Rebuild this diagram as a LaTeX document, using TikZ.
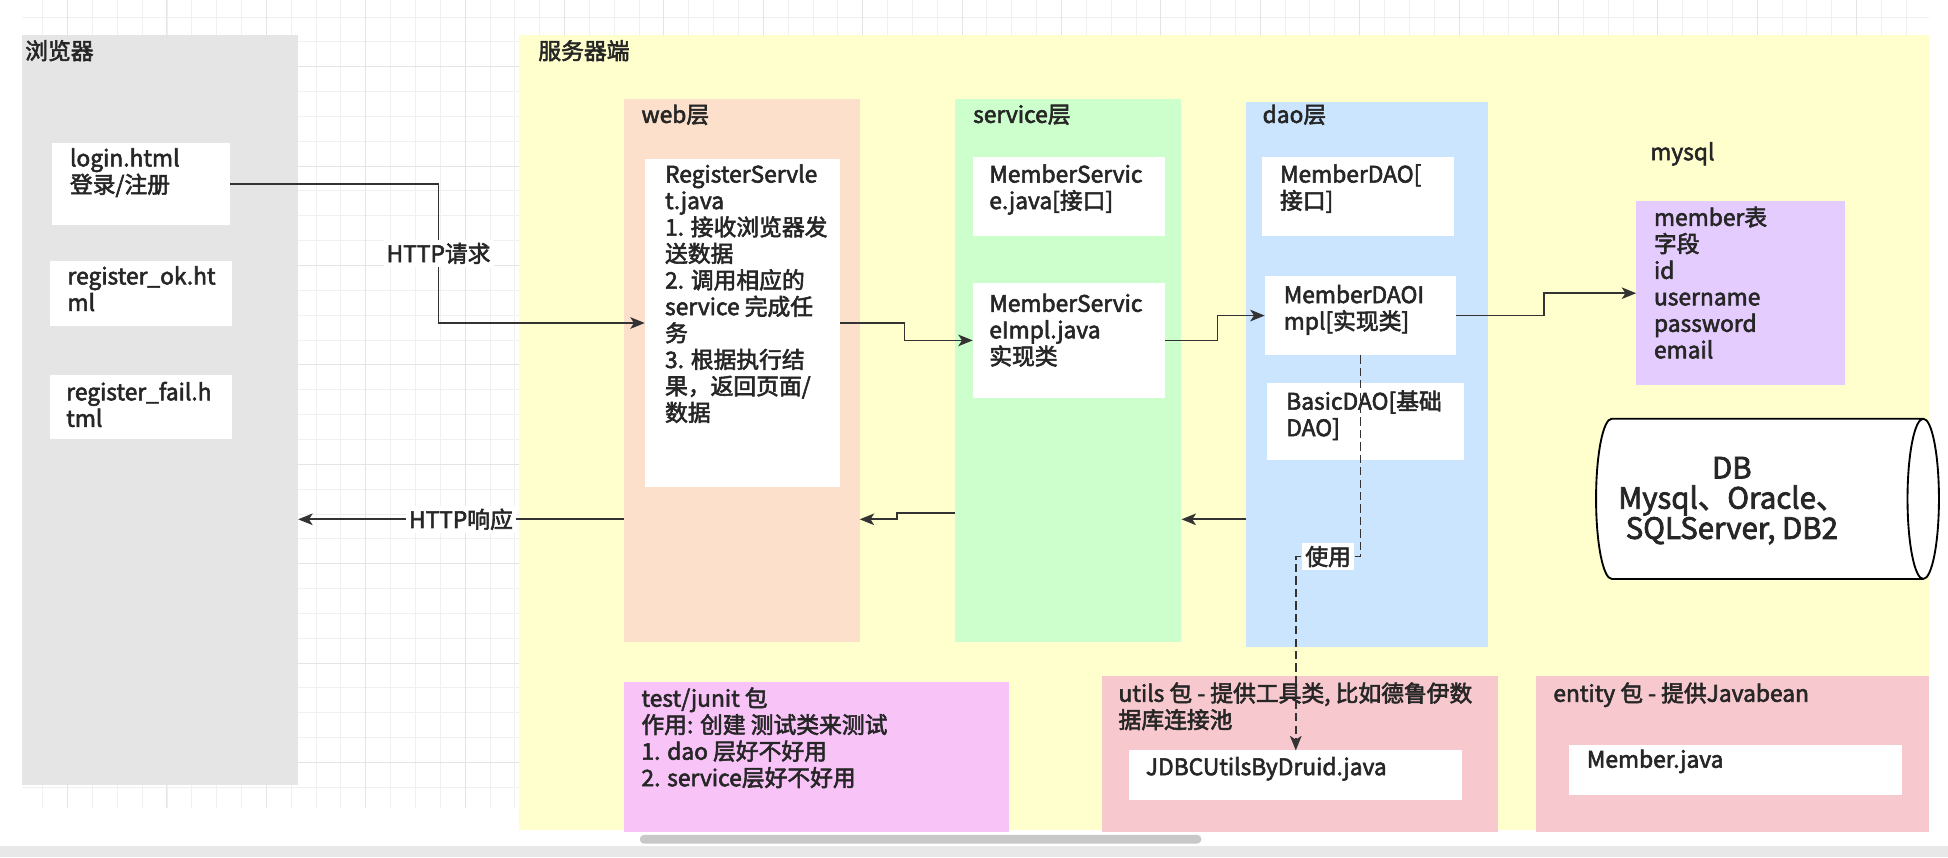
\documentclass[tikz,border=0pt]{standalone}
\usepackage{fontspec}
\setmainfont{Noto Sans CJK SC}[FakeBold=2.5]
\usepackage{tikz}
\usetikzlibrary{arrows.meta, shapes.geometric, positioning, fit, calc}

\definecolor{browserGray}{HTML}{E5E5E5}
\definecolor{serverYellow}{HTML}{FFFFCE}
\definecolor{webPeach}{HTML}{FCE0CC}
\definecolor{svcGreen}{HTML}{CCFFCC}
\definecolor{daoBlue}{HTML}{CCE5FF}
\definecolor{tblPurple}{HTML}{E5CCFF}
\definecolor{testPink}{HTML}{F8C4F8}
\definecolor{pkgPink}{HTML}{F7C8CD}
\definecolor{lineC}{HTML}{333333}
\definecolor{textC}{HTML}{262626}
\definecolor{gridMinor}{HTML}{F0F0F0}
\definecolor{gridMajor}{HTML}{E4E4E4}
\definecolor{barGray}{HTML}{E8E8E8}
\definecolor{thumbGray}{HTML}{C8C8C8}

\begin{document}
\begin{tikzpicture}[x=0.6pt, y=-0.6pt,
    zone/.style={rectangle, inner sep=0pt, outer sep=0pt},
    card/.style={zone, fill=white},
    txt/.style={anchor=north west, inner sep=0pt, align=left, text=textC,
        font=\fontsize{11pt}{12.8pt}\selectfont},
    lbl/.style={fill=white, inner sep=1.5pt, text=textC,
        font=\fontsize{11pt}{12.8pt}\selectfont},
    flow/.style={draw=lineC, line width=0.8pt,
        -{Stealth[length=7pt, width=5.6pt, inset=1.8pt]}},
    useline/.style={flow, dash pattern=on 4pt off 2pt},
    gridminor/.style={draw=gridMinor, line width=0.45pt},
    gridmajor/.style={draw=gridMajor, line width=0.5pt},
    dbshape/.style={cylinder, draw=black, line width=0.9pt, fill=white,
        shape aspect=0.33, inner sep=0pt},
    dbtxt/.style={inner sep=0pt, align=center, text=textC,
        font=\fontsize{14.2pt}{14.6pt}\selectfont}]

% canvas and grid
\path[use as bounding box, fill=white] (0,0) rectangle (1568,690);
\foreach \gx in {34.4,54.4,...,1553} \draw[gridminor] (\gx,0) -- (\gx,650);
\foreach \gy in {13.7,33.7,...,650} \draw[gridminor] (18,\gy) -- (1553,\gy);
\foreach \gx in {54.4,134.4,...,1553} \draw[gridmajor] (\gx,0) -- (\gx,650);
\foreach \gy in {53.7,133.7,...,650} \draw[gridmajor] (18,\gy) -- (1553,\gy);
\fill[barGray] (0,681) rectangle (1568,690);
\fill[thumbGray, rounded corners=2pt] (515,672) rectangle (967,679);

% browser side
\node[zone, fill=browserGray, fit={(18,28) (240,632)}] (browser) {};
\node[txt] (browserT) at (20,32) {浏览器};
\node[card, fit={(42,115) (185,181)}] (login) {};
\node[txt] (loginT) at (56,119) {login.html\\登录/注册};
\node[card, fit={(40,210) (187,262)}] (regOk) {};
\node[txt] (regOkT) at (54,214) {register\_ok.ht\\ml};
\node[card, fit={(40,302) (187,353)}] (regFail) {};
\node[txt] (regFailT) at (53,307) {register\_fail.h\\tml};

% server side
\node[zone, fill=serverYellow, fit={(418,28) (1553,668)}] (server) {};
\node[txt] (serverT) at (433,32) {服务器端};

\node[zone, fill=webPeach, fit={(502,80) (692,517)}] (web) {};
\node[txt] (webT) at (516,84) {web层};
\node[card, fit={(519,128) (676,392)}] (regS) {};
\node[txt] (regST) at (535,132) {RegisterServle\\t.java\\1. 接收浏览器发\\送数据\\2. 调用相应的\\service 完成任\\务\\3. 根据执行结\\果，返回页面/\\数据};

\node[zone, fill=svcGreen, fit={(769,80) (951,517)}] (svc) {};
\node[txt] (svcT) at (783,84) {service层};
\node[card, fit={(783,126) (938,190)}] (ms) {};
\node[txt] (msT) at (796,132) {MemberServic\\e.java[接口]};
\node[card, fit={(783,228) (938,320)}] (msImpl) {};
\node[txt] (msImplT) at (796,236) {MemberServic\\eImpl.java\\实现类};

\node[zone, fill=daoBlue, fit={(1003,82) (1198,521)}] (dao) {};
\node[txt] (daoT) at (1016,84) {dao层};
\node[card, fit={(1016,126) (1170,190)}] (md) {};
\node[txt] (mdT) at (1030,132) {MemberDAO[\\接口]};
\node[card, fit={(1018,222) (1172,286)}] (mdImpl) {};
\node[txt] (mdImplT) at (1033,229) {MemberDAOI\\mpl[实现类]};
\node[card, fit={(1020,308) (1178,370)}] (basic) {};
\node[txt] (basicT) at (1035,314) {BasicDAO[基础\\DAO]};

\node[txt] (mysqlT) at (1328,114) {mysql};
\node[zone, fill=tblPurple, fit={(1317,162) (1485,310)}] (memTbl) {};
\node[txt] (memTblT) at (1331,166) {member表\\字段\\id\\username\\password\\email};

\node[dbshape, minimum width=129*0.6pt, minimum height=276*0.6pt] (db)
    at (1416,401.5) {\rule{0pt}{46pt}};
\node[dbtxt] (dbT) at (1394,403) {DB\\Mysql、Oracle、\\SQLServer, DB2};

\node[zone, fill=testPink, fit={(502,549) (812,670)}] (testPkg) {};
\node[txt] (testT) at (516,553) {test/junit 包\\作用: 创建 测试类来测试\\1. dao 层好不好用\\2. service层好不好用};
\node[zone, fill=pkgPink, fit={(887,544) (1206,670)}] (utilsPkg) {};
\node[txt] (utilsT) at (900,549) {utils 包 - 提供工具类, 比如德鲁伊数\\据库连接池};
\node[card, fit={(909,604) (1177,644)}] (jdbc) {};
\node[txt] (jdbcT) at (922,609) {JDBCUtilsByDruid.java};
\node[zone, fill=pkgPink, fit={(1236,544) (1553,670)}] (entityPkg) {};
\node[txt] (entityT) at (1250,549) {entity 包 - 提供Javabean};
\node[card, fit={(1263,600) (1531,640)}] (member) {};
\node[txt] (memberT) at (1277,603) {Member.java};

% request path
\draw[flow] (login.east) -- ++(168,0) |- (regS.west) node[lbl, pos=0.25] {HTTP请求};
\draw[flow] (regS.east) -- ++(52,0) |- (msImpl.west);
\draw[flow] (msImpl.east) -- ++(42,0) |- (mdImpl.west);
\draw[flow] (mdImpl.east) -- ++(71,0) |- (memTbl.west);

% response path
\coordinate (ret) at (0,418);
\draw[flow] (dao.west |- ret) -- (svc.east |- ret);
\draw[flow] (svc.west |- ret) ++(0,-5) -- ++(-47,0) |- (web.east |- ret);
\draw[flow] (web.west |- ret) -- (browser.east |- ret) node[lbl, midway] {HTTP响应};

% dao uses utils
\draw[useline] (mdImpl.south) -- ++(0,162) -| (jdbc.north) node[lbl, pos=0.25] {使用};
\end{tikzpicture}
\end{document}
